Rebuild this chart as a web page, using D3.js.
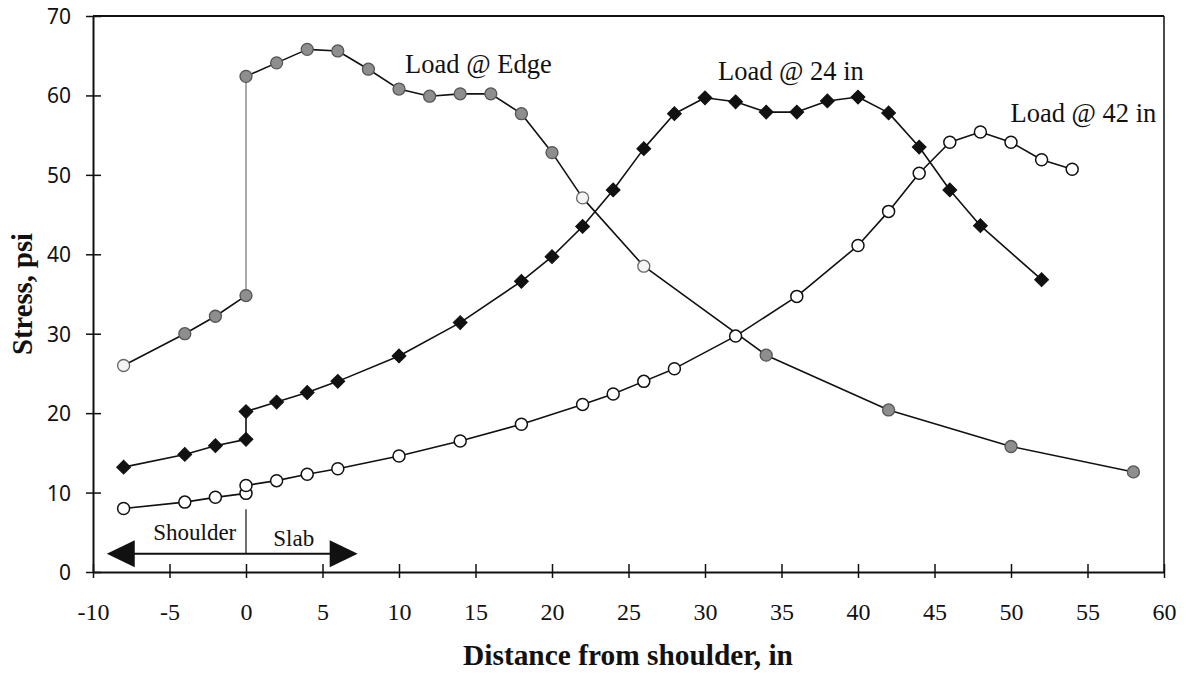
<!DOCTYPE html>
<html>
<head>
<meta charset="utf-8">
<script src="https://cdn.jsdelivr.net/npm/d3@7"></script>
<style>
  html, body { margin: 0; padding: 0; background: #fff; }
  svg { display: block; }
</style>
</head>
<body>
<svg id="chart" width="1188" height="673"></svg>
<script>
// ---------- data ----------
const xTicks = [-10, -5, 0, 5, 10, 15, 20, 25, 30, 35, 40, 45, 50, 55, 60];
const yTicks = [0, 10, 20, 30, 40, 50, 60, 70];

const edgeX = [-8, -4, -2, 0, 0, 2, 4, 6, 8, 10, 12, 14, 16, 18, 20, 22, 26, 34, 42, 50, 58];
const edgeY = [26.0, 30.0, 32.2, 34.8, 62.4, 64.1, 65.8, 65.6, 63.3, 60.8, 59.9, 60.2, 60.2, 57.7, 52.8, 47.1, 38.5, 27.3, 20.4, 15.8, 12.6];
const edgeLightX = [-8, 22, 26];

const in24X = [-8, -4, -2, 0, 0, 2, 4, 6, 10, 14, 18, 20, 22, 24, 26, 28, 30, 32, 34, 36, 38, 40, 42, 44, 46, 48, 52];
const in24Y = [13.2, 14.8, 15.9, 16.7, 20.2, 21.4, 22.6, 24.0, 27.2, 31.4, 36.6, 39.7, 43.5, 48.1, 53.3, 57.7, 59.7, 59.2, 57.9, 57.9, 59.3, 59.8, 57.8, 53.5, 48.1, 43.6, 36.8];

const in42X = [-8, -4, -2, 0, 0, 2, 4, 6, 10, 14, 18, 22, 24, 26, 28, 32, 36, 40, 42, 44, 46, 48, 50, 52, 54];
const in42Y = [8.0, 8.8, 9.4, 9.9, 10.9, 11.5, 12.3, 13.0, 14.6, 16.5, 18.6, 21.1, 22.4, 24.0, 25.6, 29.7, 34.7, 41.1, 45.4, 50.2, 54.1, 55.4, 54.1, 51.9, 50.7];

const seriesLabels = [
  { text: "Load @ Edge", x: 10.4, y: 62.8, anchor: "start" },
  { text: "Load @ 24 in", x: 30.85, y: 61.9, anchor: "start" },
  { text: "Load @ 42 in", x: 59.5, y: 56.6, anchor: "end" }
];
const zoneLabels = [
  { text: "Shoulder", x: -3.35, y: 4.03 },
  { text: "Slab", x: 3.12, y: 3.3 }
];
const arrowSpan = [-9.1, 7.3];
const arrowLevel = 2.3;
const dividerTop = 7.9;

// ---------- layout ----------
const svg = d3.select("#chart");
const L = 93, R = 1164, T = 16, B = 572;
const x = d3.scaleLinear().domain([-10, 60]).range([L, R]);
const y = d3.scaleLinear().domain([0, 70]).range([B, T]);

const serif = "'Liberation Serif', 'Times New Roman', serif";

// frame (top and right)
svg.append("line").attr("x1", L).attr("x2", R).attr("y1", T).attr("y2", T)
  .attr("stroke", "#111").attr("stroke-width", 2);
svg.append("line").attr("x1", R).attr("x2", R).attr("y1", T).attr("y2", B)
  .attr("stroke", "#111").attr("stroke-width", 1.5);

// x axis
const gx = svg.append("g").attr("transform", `translate(0,${B})`)
  .call(d3.axisBottom(x).tickValues(xTicks).tickFormat(d => String(d))
    .tickSize(7).tickSizeOuter(0).tickPadding(0));
gx.select(".domain").attr("stroke", "#111").attr("stroke-width", 2);
gx.selectAll(".tick line").attr("y1", -8).attr("y2", 6).attr("stroke", "#111").attr("stroke-width", 1.5);
gx.selectAll(".tick text").attr("y", 48).attr("dy", 0)
  .attr("font-family", serif).attr("font-size", 24).attr("fill", "#111");

// y axis
const gy = svg.append("g").attr("transform", `translate(${L},0)`)
  .call(d3.axisLeft(y).tickValues(yTicks).tickFormat(d => String(d))
    .tickSize(7).tickSizeOuter(0).tickPadding(0));
gy.select(".domain").attr("stroke", "#111").attr("stroke-width", 2);
gy.selectAll(".tick line").attr("x1", -7).attr("x2", 8).attr("stroke", "#111").attr("stroke-width", 1.5);
gy.selectAll(".tick text").attr("x", -22).attr("dy", "0.36em")
  .attr("font-family", "'Noto Sans', 'DejaVu Sans', sans-serif").attr("font-size", 21).attr("fill", "#111");

// axis titles
const xt = svg.append("text").attr("x", 628).attr("y", 665)
  .attr("text-anchor", "middle").attr("font-family", serif)
  .attr("font-weight", "bold").attr("font-size", 26).attr("fill", "#111")
  .text("Distance from shoulder, in");
const yt = svg.append("text").attr("transform", `translate(32,294) rotate(-90)`)
  .attr("text-anchor", "middle").attr("font-family", serif)
  .attr("font-weight", "bold").attr("font-size", 26).attr("fill", "#111")
  .text("Stress, psi");
function fitWidth(sel, target) {
  const w = sel.node().getComputedTextLength();
  const fs = +sel.attr("font-size");
  sel.attr("font-size", fs * target / w);
}
fitWidth(xt, 330);
fitWidth(yt, 122);

// lines (segments; the slab-edge jump of the edge series is a thin connector)
const zip = (a, b) => a.map((v, i) => [v, b[i]]);
const edge = zip(edgeX, edgeY), s24 = zip(in24X, in24Y), s42 = zip(in42X, in42Y);
const line = d3.line().x(d => x(d[0])).y(d => y(d[1]));

function drawSeries(data, thinJump) {
  const g = svg.append("g");
  g.selectAll("path").data(d3.pairs(data)).join("path")
    .attr("d", p => line(p))
    .attr("fill", "none")
    .attr("stroke", p => (thinJump && p[0][0] === p[1][0]) ? "#555" : "#111")
    .attr("stroke-width", p => (thinJump && p[0][0] === p[1][0]) ? 1 : 1.6)
    .attr("stroke-linecap", "round");
}
drawSeries(edge, true);
drawSeries(s24, false);
drawSeries(s42, false);

// markers: 42 in hollow circles
svg.append("g").selectAll("circle").data(s42).join("circle")
  .attr("cx", d => x(d[0])).attr("cy", d => y(d[1])).attr("r", 6)
  .attr("fill", "#fff").attr("stroke", "#111").attr("stroke-width", 1.5);

// 24 in diamonds
svg.append("g").selectAll("path").data(s24).join("path")
  .attr("transform", d => `translate(${x(d[0])},${y(d[1])}) rotate(45)`)
  .attr("d", d3.symbol().type(d3.symbolSquare).size(96))
  .attr("fill", "#111").attr("stroke", "#111").attr("stroke-width", 1);

// edge gray circles
svg.append("g").selectAll("circle").data(edge).join("circle")
  .attr("cx", d => x(d[0])).attr("cy", d => y(d[1])).attr("r", 6)
  .attr("fill", d => edgeLightX.includes(d[0]) ? "#f4f4f4" : "#8e8e8e")
  .attr("stroke", d => edgeLightX.includes(d[0]) ? "#666" : "#555").attr("stroke-width", 1.3);

// series labels
svg.append("g").selectAll("text").data(seriesLabels).join("text")
  .attr("x", d => x(d.x)).attr("y", d => y(d.y))
  .attr("text-anchor", d => d.anchor)
  .attr("font-family", serif).attr("font-size", 26.5).attr("fill", "#111")
  .text(d => d.text);

// shoulder / slab annotation
svg.append("g").selectAll("text").data(zoneLabels).join("text")
  .attr("x", d => x(d.x)).attr("y", d => y(d.y))
  .attr("text-anchor", "middle")
  .attr("font-family", serif).attr("font-size", 23).attr("fill", "#111")
  .text(d => d.text);

const ay = y(arrowLevel);
const xl = x(arrowSpan[0]), xr = x(arrowSpan[1]);
const headL = 28, headH = 13.5;
svg.append("line").attr("x1", xl + headL - 2).attr("x2", xr - headL + 2).attr("y1", ay).attr("y2", ay)
  .attr("stroke", "#111").attr("stroke-width", 2.2);
svg.append("path").attr("d", `M${xl},${ay} L${xl + headL},${ay - headH} L${xl + headL},${ay + headH} Z`).attr("fill", "#111");
svg.append("path").attr("d", `M${xr},${ay} L${xr - headL},${ay - headH} L${xr - headL},${ay + headH} Z`).attr("fill", "#111");
svg.append("line").attr("x1", x(0)).attr("x2", x(0)).attr("y1", y(dividerTop)).attr("y2", ay)
  .attr("stroke", "#111").attr("stroke-width", 1.2);
</script>
</body>
</html>
